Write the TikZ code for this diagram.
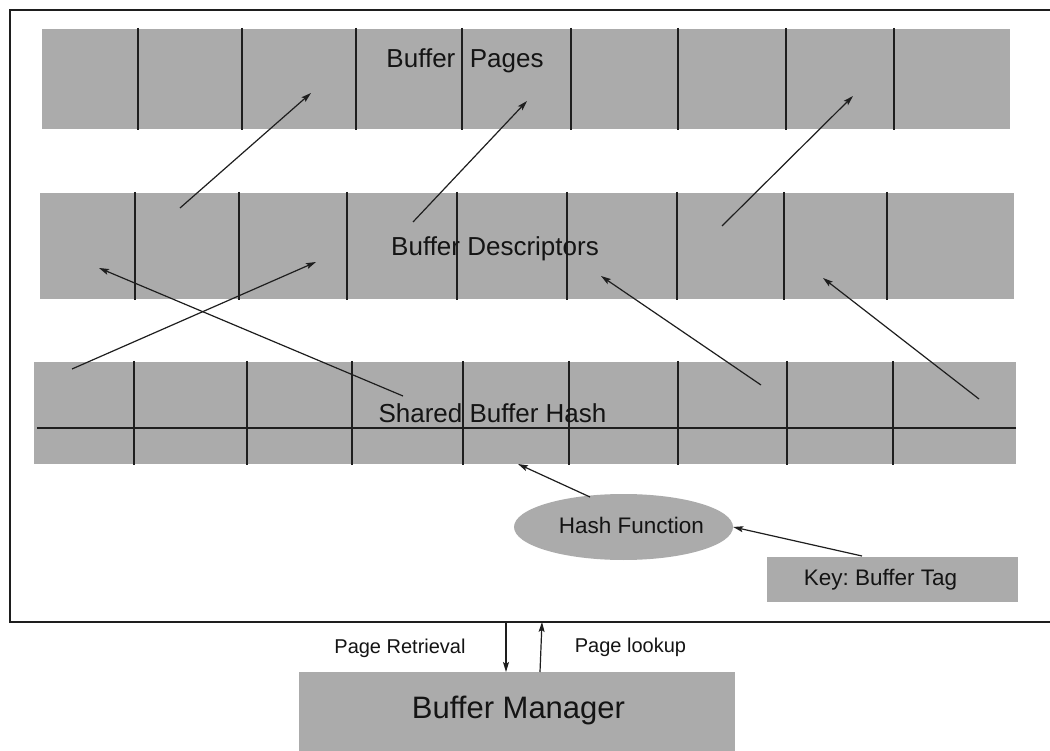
\documentclass[tikz,border=0pt]{standalone}
\usepackage{fontspec}
\setmainfont{Liberation Sans}
\usetikzlibrary{arrows.meta,shapes.geometric}
\frenchspacing
\definecolor{boxgray}{HTML}{ABABAB}
\definecolor{ink}{HTML}{1E1E1E}
\definecolor{textink}{HTML}{141414}
\tikzset{
  rowbox/.style={fill=boxgray, draw=none, inner sep=0pt, outer sep=0pt},
  divider/.style={draw=ink, line width=1.5pt},
  frameline/.style={draw=ink, line width=1.5pt},
  link/.style={draw=ink, line width=1.2pt, -{Stealth[length=10pt,width=6pt,inset=2pt]}},
  rowlabel/.style={anchor=base, inner sep=0pt, text=textink, font=\fontsize{26}{30}\selectfont},
  smalllabel/.style={anchor=base, inner sep=0pt, text=textink, font=\fontsize{22.5}{26}\selectfont},
  portlabel/.style={anchor=base, inner sep=0pt, text=textink, font=\fontsize{20}{24}\selectfont},
}
\begin{document}
\begin{tikzpicture}[x=1pt,y=-1pt]
\useasboundingbox (0,0) rectangle (1050,751);
\fill[white] (0,0) rectangle (1050,751);

% enclosing frame, open on the right
\draw[frameline] (1056,10) -- (10,10) -- (10,622) -- (1056,622);

% the three rows of slots
\node[rowbox, minimum width=968pt, minimum height=100pt] (pages) at (526,79) {};
\node[rowbox, minimum width=974pt, minimum height=106pt] (desc)  at (527,246) {};
\node[rowbox, minimum width=982pt, minimum height=102pt] (hash)  at (525,413) {};

% slot dividers
\foreach \x in {138,242,356,462,571,678,786,894}
  \draw[divider] (\x,28) -- (\x,130);
\foreach \x in {135,239,347,457,567,677,784,887}
  \draw[divider] (\x,192) -- (\x,300);
\foreach \x in {134,247,352,463,569,678,787,893}
  \draw[divider] (\x,361) -- (\x,465);
\draw[divider] (37,428) -- (1016,428);

% row captions
\node[rowlabel] (lpages) at (465,68) {Buffer\ \ Pages};
\node[rowlabel] (ldesc)  at (495,256) {Buffer Descriptors};
\node[rowlabel] (lhash)  at (492.5,422) {Shared Buffer Hash};

% hash function and key
\node[ellipse, fill=boxgray, inner sep=0pt, minimum width=219pt, minimum height=66pt] (hf) at (623.5,527) {};
\node[smalllabel] (lhf) at (631.5,533) {Hash Function};
\node[rowbox, minimum width=251pt, minimum height=45pt] (key) at (892.5,579.5) {};
\node[smalllabel] (lkey) at (880.5,585) {Key: Buffer Tag};

% buffer manager
\node[rowbox, minimum width=436pt, minimum height=90pt] (mgr) at (517,717) {};
\node[anchor=base, inner sep=0pt, text=textink, font=\fontsize{31}{36}\selectfont] (lmgr) at (518.5,718) {Buffer Manager};
\node[portlabel] (lret) at (400,653) {Page Retrieval};
\node[portlabel] (llook) at (630.5,652) {Page lookup};

% end points inside the slots
\coordinate (d1) at (180,208);
\coordinate (p1) at (311,93);
\coordinate (d2) at (413,222);
\coordinate (p2) at (527,101);
\coordinate (d3) at (722,226);
\coordinate (p3) at (853,96);
\coordinate (h1) at (72,369);
\coordinate (d4) at (316,262);
\coordinate (h2) at (403,396);
\coordinate (d5) at (99,268);
\coordinate (h3) at (761,385);
\coordinate (d6) at (601,276);
\coordinate (h4) at (979,399);
\coordinate (d7) at (823,278);
\coordinate (h5) at (518,464);
\coordinate (hfout) at (590,497);
\coordinate (keyout) at (862,556);
\coordinate (retin) at (506,622);
\coordinate (lookout) at (542,622);

% descriptors point to pages
\draw[link] (d1) -- (p1);
\draw[link] (d2) -- (p2);
\draw[link] (d3) -- (p3);
% hash entries point to descriptors
\draw[link] (h1) -- (d4);
\draw[link] (h2) -- (d5);
\draw[link] (h3) -- (d6);
\draw[link] (h4) -- (d7);
% lookup path
\draw[link] (hfout) -- (h5);
\draw[link] (keyout) -- (hf.east);
\draw[link] (retin) -- (retin |- mgr.north);
\draw[link] (lookout |- mgr.north) ++(-2,0) -- (lookout);
\end{tikzpicture}
\end{document}
